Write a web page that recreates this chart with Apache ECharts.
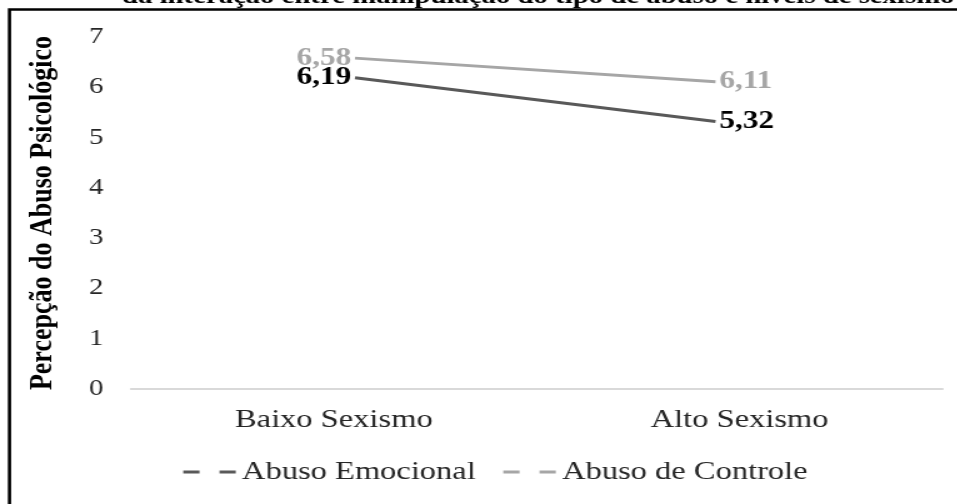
<!DOCTYPE html>
<html>
<head>
<meta charset="utf-8">
<script src="https://cdn.jsdelivr.net/npm/echarts@6/dist/echarts.min.js"></script>
<style>
html,body{margin:0;padding:0;background:#fff;overflow:hidden;width:957px;height:504px}
#c{width:765.6px;height:504px;transform:scaleX(1.25);transform-origin:0 0}
</style>
</head>
<body>
<div id="c"></div>
<script>
const categories = ['Baixo Sexismo', 'Alto Sexismo'];
const abusoEmocional = [6.19, 5.32];
const abusoControle = [6.58, 6.11];
const yTicks = [0, 1, 2, 3, 4, 5, 6, 7];
const seriesNames = ['Abuso Emocional', 'Abuso de Controle'];
const titleText = 'da interação entre manipulação do tipo de abuso e níveis de sexismo';
const yAxisName = 'Percepção do Abuso Psicológico';

const serif = '"Liberation Serif", "Times New Roman", serif';
const fmt = p => p.value.toFixed(2).replace('.', ',');
const dashIcon = 'path://M0,0h13v3h-13z M29,0h13v3h-13z';
const colEmo = '#595959', colCtrl = '#a6a6a6';

const chart = echarts.init(document.getElementById('c'));
chart.setOption({
  animation: false,
  backgroundColor: '#fff',
  grid: [
    { left: 104.8, right: 12, top: 37, bottom: 115 },
    { left: 284, right: 193.6, top: 37, bottom: 115 }
  ],
  xAxis: [
    { type: 'category', gridIndex: 0, data: categories, boundaryGap: true,
      axisLine: { lineStyle: { color: '#d9d9d9', width: 2 } },
      axisTick: { show: false },
      axisLabel: { fontFamily: serif, fontSize: 26, color: '#262626', margin: 18 } },
    { type: 'category', gridIndex: 1, data: categories, boundaryGap: false, show: false }
  ],
  yAxis: [
    { type: 'value', gridIndex: 0, min: yTicks[0], max: yTicks[yTicks.length - 1], interval: 1,
      name: yAxisName, nameLocation: 'middle', nameGap: 58,
      nameTextStyle: { fontFamily: serif, fontSize: 26, fontWeight: 'bold', color: '#000' },
      axisLine: { show: false }, axisTick: { show: false }, splitLine: { show: false },
      axisLabel: { fontFamily: serif, fontSize: 23, color: '#262626', margin: 22 } },
    { type: 'value', gridIndex: 1, min: yTicks[0], max: yTicks[yTicks.length - 1], show: false }
  ],
  legend: {
    top: 454, left: 141.6, itemWidth: 42, itemHeight: 3, itemGap: 22,
    textStyle: { fontFamily: serif, fontSize: 26, color: '#262626' },
    data: [
      { name: seriesNames[0], icon: dashIcon, itemStyle: { color: colEmo } },
      { name: seriesNames[1], icon: dashIcon, itemStyle: { color: colCtrl } }
    ]
  },
  series: [
    { name: seriesNames[0], type: 'line', xAxisIndex: 1, yAxisIndex: 1,
      symbol: 'circle', symbolSize: 0, showSymbol: true,
      lineStyle: { color: colEmo, width: 3 }, itemStyle: { color: colEmo },
      label: { show: true, formatter: fmt, fontFamily: serif, fontSize: 25, fontWeight: 'bold', color: '#000', distance: 3 },
      data: abusoEmocional.map((v, i) => ({ value: v, label: { position: i === 0 ? 'left' : 'right' } })) },
    { name: seriesNames[1], type: 'line', xAxisIndex: 1, yAxisIndex: 1,
      symbol: 'circle', symbolSize: 0, showSymbol: true,
      lineStyle: { color: colCtrl, width: 3 }, itemStyle: { color: colCtrl },
      label: { show: true, formatter: fmt, fontFamily: serif, fontSize: 25, fontWeight: 'bold', color: colCtrl, distance: 3 },
      data: abusoControle.map((v, i) => ({ value: v, label: { position: i === 0 ? 'left' : 'right' } })) }
  ],
  graphic: [
    { type: 'text', x: 97.6, y: 9, z: 10,
      style: { text: titleText, font: 'bold 23px ' + serif, fill: '#000', verticalAlign: 'bottom' } },
    { type: 'rect', z: 20, shape: { x: 7.6, y: 9.5, width: 1000, height: 600 },
      style: { fill: 'none', stroke: '#000', lineWidth: 2.6 } }
  ]
});
</script>
</body>
</html>
